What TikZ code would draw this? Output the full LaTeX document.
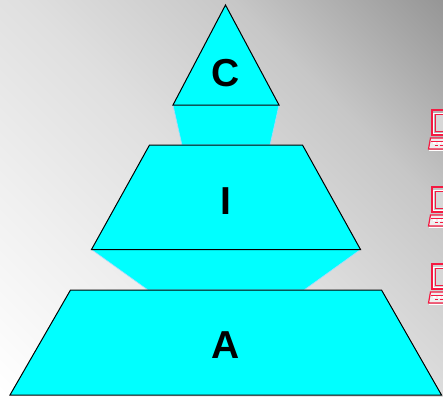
\documentclass[tikz,border=0pt]{standalone}
\usepackage{fontspec}
\setmainfont{Liberation Sans}
\definecolor{cy}{RGB}{0,255,255}
\definecolor{redl}{RGB}{245,25,65}
\definecolor{scr}{RGB}{215,215,215}
\pgfdeclareverticalshading{bgdiag}{100bp}{
  rgb(0bp)=(1,1,1);
  rgb(14.65bp)=(1,1,1);
  rgb(32.3bp)=(0.94,0.94,0.94);
  rgb(50bp)=(0.875,0.875,0.875);
  rgb(67.7bp)=(0.78,0.78,0.78);
  rgb(85.35bp)=(0.59,0.59,0.59);
  rgb(100bp)=(0.59,0.59,0.59)}
\tikzset{
  tier/.style={fill=cy,draw=black,line width=1pt,line join=miter},
  neck/.style={fill=cy,draw=cy!60!blue!35!white,line width=0.6pt},
  letter/.style={font=\fontsize{39}{39}\bfseries\selectfont,text=black,inner sep=0pt},
  pics/laptop/.style={code={
    \draw[white,line width=1pt] (-3,15) -- (20,15);
    \draw[white,line width=1pt] (1.5,-22) -- (20,-22) (1.5,-22) -- (1.5,-2) -- (20,-2);
    \draw[redl,line width=1.2pt] (0,-25) rectangle (24,0);
    \draw[redl,line width=1pt,fill=scr] (3,-21) rectangle (24,-4);
    \draw[redl,line width=1.2pt,fill=white!60!scr] (24,3) -- (-1.5,3) -- (-3.5,14) -- (24,14);
    \draw[white,line width=1.4pt,dash pattern=on 3pt off 1.5pt] (1,8) -- (20,8);
    \draw[redl,line width=1pt,dash pattern=on 3pt off 1.5pt] (3,10) -- (20,10);
    \draw[redl,line width=0.9pt] (-1,6) -- (24,6);
  }}
}
\begin{document}
\begin{tikzpicture}[x=1pt,y=-1pt]
\useasboundingbox (0,0) rectangle (443,396);
\clip (0,0) rectangle (443,396);
\shade[shading=bgdiag,shading angle=-45] (0,0) rectangle (443,396);
\draw[neck] (173,105) -- (182,145) -- (270,145) -- (279,105) -- cycle;
\draw[neck] (91.5,249.5) -- (148,290) -- (304,290) -- (360.5,249.5) -- cycle;
\draw[tier] (225.5,5) -- (279,105) -- (173,105) -- cycle;
\draw[tier] (149.5,145) -- (302.5,145) -- (360.5,249.5) -- (91.5,249.5) -- cycle;
\draw[tier] (70.5,290) -- (381.5,290) -- (441.5,395) -- (10,395) -- cycle;
\node[letter] (c) at (225.5,73) {C};
\node[letter] (i) at (225.5,201) {I};
\node[letter] (a) at (225.5,345) {A};
\pic at (432,135) {laptop};
\pic at (432,212) {laptop};
\pic at (432,289) {laptop};
\end{tikzpicture}
\end{document}
